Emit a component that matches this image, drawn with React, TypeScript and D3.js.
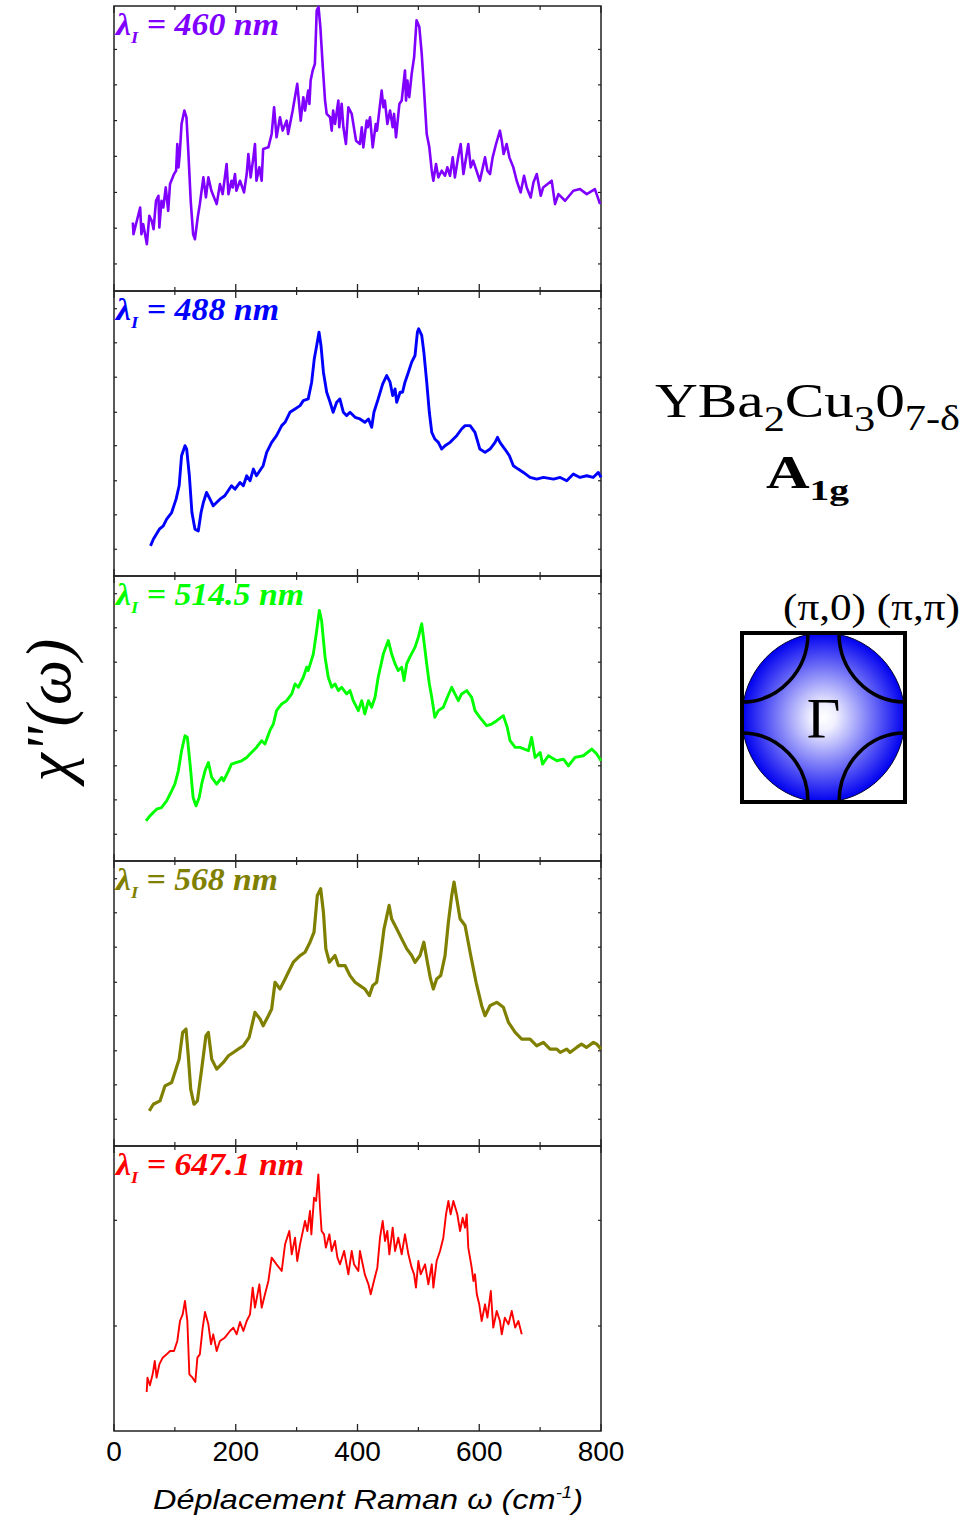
import React from "react";
import * as d3 from "d3";

// ---------- data (wavenumber cm^-1, intensity arb. units) ----------
const s460: [number, number][] = [
  [31,20.5],[32,17],[43,25],[45,17],[48,20],[54,14],[58,22.5],[62,21],[65,18.5],[69,27],[73,28.5],[74.5,19],[78,27],[81,25],[85,31],[89,24],[92,32],[98.6,35],[102,36],[104,44],[106,37],[108,41],[111,50],[115.6,54],[119,52],[122,42],[126,27],[130,17],[133,15.5],[137.5,22],[141,26],[146.8,34],[151,28],[155,34],[160,30],[168.7,26],[174,32],[178.5,29],[185,38],[188,29],[193,33],[195,31],[198.8,35],[201,30],[207,33],[213.6,29.5],[218,35],[220.7,41],[224.5,34],[229,40],[231.6,44],[234,33],[238.8,37],[242.6,33],[245,42.5],[253.6,43],[259,47],[263,55],[267,46],[272.7,52],[277,48],[283.7,51],[286,47],[293.5,54],[301,62],[306.7,51],[311,58],[313.8,54],[319,60],[321,56],[323,63],[326.4,66],[330,68],[333,84],[336,85],[339,79],[343,67],[346.7,57],[349.4,53],[355,52],[357.6,48],[360,54],[363,50],[368.6,57],[370,49],[374,56],[376.8,49],[381,44],[385,55],[390.5,53],[397.6,45],[404,44],[407,49],[409.6,43],[415,51],[417,49],[420.6,52],[425,43],[430,50],[432,48],[439.7,60],[442.5,55],[445,57],[449,50],[453.5,54],[457.8,49],[460,53],[463.3,46],[468.8,56],[472.6,57],[478,66],[479.7,57],[482,63],[485,58],[489,65],[493,70],[497,81],[501.6,79],[505.5,71],[509,61],[513.7,47],[518,43],[522,36],[524.6,33],[529,38],[532.8,34],[538.3,36],[543.8,34.5],[547.6,37],[552,34.5],[556.4,40],[560,34],[565.7,40.5],[569.5,44],[574,35],[582,44],[586,37],[590,39],[601,33],[609.5,40],[613.4,36],[617.7,35],[622,40],[627.6,44],[634,48],[637,45],[640,41],[645,44],[649.5,40],[656,37],[661.5,33],[668,29.5],[673.6,34.5],[678,31],[684.5,28],[689,32.5],[694.5,35],[701,28.5],[705,31],[719,33],[724.5,26],[730,29],[741,27],[754.6,30],[765.6,30.5],[776.6,29],[790,30.5],[798.5,26]
];

const s488: [number, number][] = [
  [60,9],[64.6,11],[74.5,14],[81,15],[86.5,17],[94.7,19],[102,23],[107,27],[111,36],[116.6,39],[119.4,38],[123.8,30],[128,19],[133,14],[138.5,13.5],[143,19],[146.8,22],[152,25],[157.7,23],[163,21],[174,23],[182,24],[193,27],[198.8,26],[207,28],[212.5,27],[218,30],[223.4,28.5],[229,32],[234,30],[245,33],[250.8,37],[259,40],[267,42],[275.5,45],[281,46],[289,49],[297.4,50],[305.6,51],[311,52.5],[319,53],[324.7,58],[329,65],[333,69],[336.8,73],[340,69],[344,61],[349.4,55],[355,52],[360,49],[365.8,52],[371,53],[376.8,49],[382,48],[387.7,49],[396,47.5],[404,47],[412,46],[418,47],[423.3,44.5],[427,49],[434,53],[441.4,57.5],[448,60],[453.5,58],[457.8,54],[461.7,56],[464.4,52],[470,55],[474,55],[478,58],[483.6,61],[489,64],[494.5,66],[498.4,73],[500.5,74],[505.5,72],[509,67],[513.7,58],[518,49],[522,43],[527,41],[532.8,40],[538.3,38],[543.8,39],[552,40],[557.5,41],[563,42],[571,44],[576.7,45],[585,45],[593,43],[601,38],[609.5,37],[617.7,38],[626,40],[630,41.5],[634,40],[642,38],[649.5,36],[656,33],[664,32],[672.5,31],[683.5,29.5],[694.5,29],[705.4,29.5],[722,29],[733,29.5],[743.7,28.5],[754.6,30.5],[765.6,29.5],[776.6,30],[787,29.5],[795.7,31],[800,29.5]
];

const s514: [number, number][] = [
  [52.6,12],[59,13.5],[70,15.5],[78,16],[86.5,18],[94.7,21],[100,23],[105.7,27],[111,33],[116.6,37.5],[120.5,37],[125,29],[130,19],[134.7,16.5],[140,19],[144,23],[149.5,27],[155,29.5],[160.5,25],[168.7,23],[177,25],[180,24],[188,27],[193,29],[201.5,29.5],[209.7,30],[218,31],[223.4,32],[234,34],[242.6,36],[248,35],[256,39],[261.8,41],[267,45],[275.5,47],[283.7,48],[292,50],[297.4,53],[302.8,52],[311,55],[316.5,58],[319,57],[327.5,62],[333,69],[337.4,75],[341,72],[346.7,61],[352,55],[357.6,52],[363,53],[368.6,51],[374,52],[382,50],[387.7,51],[393,48],[401.4,45],[407,48],[412,44],[418,48],[423.3,46],[428.8,49],[434,55],[442.5,62],[450.7,66],[456,62],[461.7,59],[467,57],[472.6,58],[476.5,54],[480.8,59],[486,61],[494.5,64],[500,67],[505.5,71],[509,66],[513.7,59],[518,53],[522,49],[527,43],[532.8,45],[541,46],[547.6,49],[554.8,52],[560,50],[565.7,48],[571,50],[579.4,51],[587.6,49],[593,45],[601,43],[612,40.5],[620.5,41],[628.7,42],[639.6,43.5],[646,40],[650.6,36],[659,34],[667,34],[680.8,33],[686,37],[691.7,31],[700,32.5],[704,29],[713.6,31.5],[727.4,30],[738.3,30.5],[746.5,28.5],[757.4,31],[771,31.5],[784.8,33.5],[793,32],[800,30]
];

const s568: [number, number][] = [
  [58,10.5],[64.6,12.5],[75.6,13.5],[83.8,18],[94.7,19],[100,22],[107,26],[112.8,34],[118.3,35],[122,27],[126,17],[131.4,12.5],[137,13.5],[144,23],[151,33],[155,34],[160.5,26],[168.7,23],[179.6,25],[188,27],[196,28],[204,29],[212.5,30],[222,32.5],[231.6,40],[240,38],[245,36],[253.6,39],[259,41],[264.5,49],[272.7,47],[281,50],[286.4,52],[294.6,55],[305.6,57],[313.8,58],[322,61],[328.6,64],[334,75],[339.5,77],[344,70],[348,59],[353.8,55],[363,57],[368.6,54],[379.5,54],[387.7,51],[396,49],[404,48],[412,47],[419.5,45],[425,48],[431.5,49],[438,57],[443.6,65],[452,72],[456,68],[464.4,65],[472.6,62],[481,59],[489,57],[494.5,55],[502.7,57],[509,61],[514.8,55],[520,50],[524.6,47],[530,50],[536.7,51],[543.8,57],[549.3,67],[554.8,75],[558.6,79],[563,74],[568.5,68],[576.7,66],[586,57],[594.8,49],[604,42],[609.5,39],[617.7,42],[628.7,43],[639.6,41.5],[648,37],[659,34],[669.8,32],[683.5,32],[694.5,30],[705.4,31],[716.3,29],[727.4,29],[733,28],[743.7,29],[749,28],[760,29.5],[768,30.5],[776,29.5],[787.6,31],[793,30.5],[800,29]
];

const s647: [number, number][] = [
  [53.7,11.7],[55,16],[59,13.7],[63.5,17],[67,21],[70,16],[74.5,20],[80,22],[86.5,23],[92,24],[98.6,24],[104,27],[108.4,33],[112.8,35],[116.6,39],[120.5,33],[123.8,17],[129,16],[133.6,14.7],[137,22],[141,23],[145.7,31],[149.5,35.7],[155,32],[159.4,26],[163,29],[168.7,24],[174,27],[182,28],[190.6,30],[196,31],[201.5,29],[207,32.7],[212.5,30],[218,33],[223.4,35],[227.8,43],[231.6,37],[238.8,44],[242.6,37],[248,41],[253.6,45],[259,52],[267,50],[275.5,48],[281,56],[288,60],[292,53],[297.4,58],[301,51],[305.6,56],[313.8,63],[317.6,60],[322,66],[324.2,59],[328.6,70],[332,69],[335.7,77],[338.5,67],[341,60],[345,59],[348,55],[353.8,59],[357.6,54],[363,57],[367,52],[371.3,50],[378,54],[385,47],[390.5,54],[394.3,50],[401.4,48],[404,54],[412,47],[418,44],[421.7,41],[427,45],[432.6,49],[437,58],[441.4,63],[445.2,57],[449,60],[452.3,53],[457.8,61],[461.7,54],[467,58],[472.6,53],[478,59],[483.6,53],[489,49],[493,47],[496,43],[500,51],[503.8,47],[511,50],[516.4,44],[522,50],[524.6,43],[530,51],[535.6,54],[541,58],[545.4,65],[549.3,69],[553,65],[557.5,69],[564,65],[568.5,60],[572.8,64],[576.7,61],[579.4,65],[582,55],[587.6,49],[590.4,45],[593,47],[596,41],[600,38],[604,33],[609.5,38],[613.4,34],[619,42],[623,31],[628.7,36],[634,33],[637,29],[642,34],[648,32],[653.4,36],[659,31],[664.3,33],[669.8,29]
];

const xTickMajor = [0, 200, 400, 600, 800];
const xTickMinor = [100, 300, 500, 700];
const yTicksP1 = [8.1, 18.8, 29.5, 40.3, 51, 61.7, 72.3];
const yTicksP2 = [8.0, 18.3, 28.5, 39.0, 49.0, 59.5, 69.8, 80.0];
const yTicksP5 = [31.5, 63.2];

const panels = [
  { name: "460", color: "#8000ff", data: s460, width: 2.6, yMax: 85.3, yTicks: yTicksP1, labelLen: 163 },
  { name: "488", color: "#0000ff", data: s488, width: 2.9, yMax: 85.3, yTicks: yTicksP2, labelLen: 163 },
  { name: "514.5", color: "#00ff00", data: s514, width: 2.9, yMax: 85.3, yTicks: yTicksP2, labelLen: 188 },
  { name: "568", color: "#808000", data: s568, width: 3.2, yMax: 85.3, yTicks: yTicksP2, labelLen: 162 },
  { name: "647.1", color: "#ff0000", data: s647, width: 1.9, yMax: 85.5, yTicks: yTicksP5, labelLen: 188 },
];

// ---------- layout ----------
const W = 967, H = 1519;
const left = 114, right = 601, top0 = 6, ph = 285;

export default function App() {
  const x = d3.scaleLinear().domain([0, 800]).range([left, right]);
  const serif = "'Liberation Serif', 'Times New Roman', serif";
  const sans = "'Liberation Sans', Arial, sans-serif";

  // Fermi surface inset geometry
  const sq = { x0: 742, y0: 633, x1: 905, y1: 802 };
  const cx = (sq.x0 + sq.x1) / 2, cy = (sq.y0 + sq.y1) / 2;
  const rx = (sq.x1 - sq.x0) / 2, ry = (sq.y1 - sq.y0) / 2;
  const ax = 66, ay = 69;
  const corners: [number, number, number, number][] = [
    [sq.x0, sq.y0, 1, 1], [sq.x1, sq.y0, -1, 1], [sq.x0, sq.y1, 1, -1], [sq.x1, sq.y1, -1, -1],
  ];

  return (
    <div style={{ position: "absolute", left: 0, top: 0 }}>
      <svg width={W} height={H} style={{ display: "block", background: "#fff" }}>
        <defs>
          <radialGradient id="fsGrad" cx="50%" cy="50%" r="50%">
            <stop offset="0%" stopColor="#ffffff" />
            <stop offset="15%" stopColor="#f0f0ff" />
            <stop offset="100%" stopColor="#0000f0" />
          </radialGradient>
        </defs>
        {panels.map((p, i) => {
          const t = top0 + i * ph;
          const y = d3.scaleLinear().domain([0, p.yMax]).range([t + ph, t]);
          const line = d3.line<[number, number]>().x(d => x(d[0])).y(d => y(d[1]));
          return (
            <g key={p.name}>
              <rect x={left} y={t} width={right - left} height={ph} fill="none" stroke="#222" strokeWidth={1.5} />
              {xTickMajor.map(v => (
                <g key={"M" + v}>
                  <line x1={x(v)} x2={x(v)} y1={t} y2={t + 7} stroke="#222" strokeWidth={1.3} />
                  <line x1={x(v)} x2={x(v)} y1={t + ph} y2={t + ph - 7} stroke="#222" strokeWidth={1.3} />
                </g>
              ))}
              {xTickMinor.map(v => (
                <g key={"m" + v}>
                  <line x1={x(v)} x2={x(v)} y1={t} y2={t + 4} stroke="#222" strokeWidth={1.2} />
                  <line x1={x(v)} x2={x(v)} y1={t + ph} y2={t + ph - 4} stroke="#222" strokeWidth={1.2} />
                </g>
              ))}
              {p.yTicks.map(v => (
                <g key={"y" + v}>
                  <line x1={left} x2={left + 3} y1={y(v)} y2={y(v)} stroke="#222" strokeWidth={1.2} />
                  <line x1={right} x2={right - 3} y1={y(v)} y2={y(v)} stroke="#222" strokeWidth={1.2} />
                </g>
              ))}
              <path d={line(p.data) || ""} fill="none" stroke={p.color} strokeWidth={p.width} strokeLinejoin="round" />
              <text x={116} y={t + 29} fill={p.color} fontFamily={serif} fontWeight="bold" fontStyle="italic"
                fontSize={31} textLength={p.labelLen} lengthAdjust="spacingAndGlyphs">
                <tspan>λ</tspan>
                <tspan dy={8} fontSize={17}>I</tspan>
                <tspan dy={-8}> = {p.name} nm</tspan>
              </text>
            </g>
          );
        })}
        {/* bottom axis labels */}
        {xTickMajor.map(v => (
          <text key={"l" + v} x={x(v)} y={1461} textAnchor="middle" fontFamily={sans} fontSize={28} fill="#000">{v}</text>
        ))}
        <text x={153} y={1509} fontFamily={sans} fontStyle="italic" fontSize={28} fill="#000"
          textLength={430} lengthAdjust="spacingAndGlyphs">
          Déplacement Raman ω (cm<tspan dy={-11} fontSize={16}>-1</tspan><tspan dy={11}>)</tspan>
        </text>
        {/* y axis label */}
        <text transform="translate(70,710) rotate(-90)" textAnchor="middle" fontFamily={serif} fontStyle="italic" fontSize={64} fill="#000">
          χ"(ω)
        </text>
        {/* compound label */}
        <text x={655} y={417} fontFamily={serif} fontSize={49} fill="#000" textLength={305} lengthAdjust="spacingAndGlyphs">
          YBa<tspan dy={14} fontSize={35}>2</tspan><tspan dy={-14}>Cu</tspan><tspan dy={14} fontSize={35}>3</tspan><tspan dy={-14}>0</tspan><tspan dy={13} fontSize={35}>7-δ</tspan>
        </text>
        <text x={766} y={488} fontFamily={serif} fontWeight="bold" fontSize={46} fill="#000" textLength={83} lengthAdjust="spacingAndGlyphs">
          A<tspan dy={12} fontSize={30}>1g</tspan>
        </text>
        {/* Fermi surface inset */}
        <text x={783} y={620} fontFamily={serif} fontSize={37} fill="#000" textLength={177} lengthAdjust="spacingAndGlyphs">(π,0) (π,π)</text>
        <ellipse cx={cx} cy={cy} rx={rx} ry={ry} fill="url(#fsGrad)" stroke="#000030" strokeWidth={1} />
        {corners.map(([px, py, sx, sy], k) => (
          <path key={k}
            d={`M${px + sx * ax},${py} A${ax},${ay} 0 0 ${sx * sy > 0 ? 1 : 0} ${px},${py + sy * ay}`}
            fill="none" stroke="#000" strokeWidth={3.5} />
        ))}
        <rect x={sq.x0} y={sq.y0} width={sq.x1 - sq.x0} height={sq.y1 - sq.y0} fill="none" stroke="#000" strokeWidth={4} />
        <text x={cx} y={cy + 20} textAnchor="middle" fontFamily={serif} fontSize={58} fill="#000">Γ</text>
      </svg>
    </div>
  );
}
